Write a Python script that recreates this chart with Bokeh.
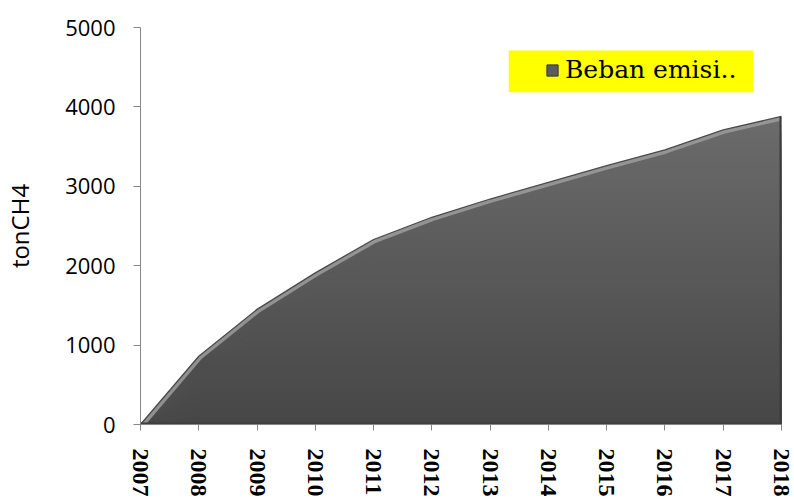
import numpy as np
from bokeh.plotting import figure
from bokeh.models import Range1d, FixedTicker, Legend, LegendItem, BoxAnnotation
from bokeh.embed import file_html
from bokeh.resources import INLINE

# Emission load of CH4 per year (ton)
years = [2007, 2008, 2009, 2010, 2011, 2012, 2013, 2014, 2015, 2016, 2017, 2018]
emisi = [0, 860, 1450, 1910, 2330, 2610, 2840, 3050, 3260, 3460, 3710, 3880]
y_ticks = [0, 1000, 2000, 3000, 4000, 5000]
series_name = "Beban emisi.."
y_label = "tonCH4"

x = np.array(years, dtype=float)
v = np.array(emisi, dtype=float)
Y_MAX = 5000

p = figure(width=794, height=499, output_backend="svg", toolbar_location=None,
           x_range=Range1d(years[0], years[-1]), y_range=Range1d(0, Y_MAX),
           min_border_left=140, min_border_right=13, min_border_top=27,
           min_border_bottom=74)
p.outline_line_color = None
p.xgrid.visible = False
p.ygrid.visible = False
p.background_fill_color = "white"
p.border_fill_color = "white"

# vertical grey gradient: overlapping fills from the top band down,
# each one starting at zero so no seams show between bands
n_bands = 40
top = v.max()
c_bottom = np.array([0x47, 0x47, 0x47])
c_top = np.array([0x6c, 0x6c, 0x6c])
zeros = np.zeros_like(v)
for k in reversed(range(n_bands)):
    hi = top * (k + 1) / n_bands if k < n_bands - 1 else Y_MAX
    t = (k + 0.5) / n_bands
    c = (c_bottom + (c_top - c_bottom) * t).astype(int)
    p.varea(x=x, y1=zeros, y2=np.minimum(v, hi),
            fill_color="#%02x%02x%02x" % tuple(c))

# bevel: light rim along the top edge, masked outside the area
p.line(x, v, line_color="#9c9c9c", line_width=8, line_alpha=0.85, line_join="round")
p.varea(x=x, y1=v, y2=np.full_like(v, Y_MAX), fill_color="white")
p.line(x, v, line_color="#4a4a4a", line_width=1.3, line_join="round")
# darker right and bottom edges (outer half clipped by the frame)
p.line([years[-1], years[-1]], [0, emisi[-1]], line_color="#3c3c3c", line_width=4)
p.line([years[0], years[-1]], [0, 0], line_color="#3f3f3f", line_width=4)

# legend swatch
r_leg = p.quad(left=[np.nan], right=[np.nan], bottom=[np.nan], top=[np.nan],
               fill_color="#5c5c5c", line_color="#333333", line_width=1)

# axes
for ax in (p.xaxis[0], p.yaxis[0]):
    ax.axis_line_color = "#868686"
    ax.major_tick_line_color = "#868686"
    ax.minor_tick_line_color = None
    ax.major_tick_in = 0
    ax.major_label_text_color = "black"

p.xaxis.ticker = FixedTicker(ticks=years)
p.xaxis.major_tick_out = 6
p.xaxis.major_label_orientation = "vertical"
p.xaxis.major_label_text_font = "Liberation Serif"
p.xaxis.major_label_text_font_style = "bold"
p.xaxis.major_label_text_font_size = "24px"
p.xaxis.major_label_standoff = 18

p.yaxis.ticker = FixedTicker(ticks=y_ticks)
p.yaxis.major_tick_out = 7
p.yaxis.major_label_text_font = "Open Sans"
p.yaxis.major_label_text_font_size = "22px"
p.yaxis.major_label_standoff = 18
p.yaxis.axis_label = y_label
p.yaxis.axis_label_text_font = "Open Sans"
p.yaxis.axis_label_text_font_size = "24px"
p.yaxis.axis_label_text_font_style = "normal"
p.yaxis.axis_label_text_color = "black"
p.yaxis.axis_label_standoff = 26

# yellow legend panel
panel = BoxAnnotation(left=2013.32, right=2017.52, bottom=4183, top=4711,
                      fill_color="#ffff00", fill_alpha=1.0, line_color=None)
p.add_layout(panel)

legend = Legend(items=[LegendItem(label=series_name, renderers=[r_leg])],
                location=(405, 340), padding=0, margin=0, spacing=0,
                glyph_width=14, glyph_height=14, label_standoff=6,
                label_text_font="DejaVu Serif", label_text_font_size="25px",
                label_text_color="black",
                background_fill_alpha=0, border_line_color=None)
p.add_layout(legend)

open("out.html", "w").write(file_html(p, INLINE))
